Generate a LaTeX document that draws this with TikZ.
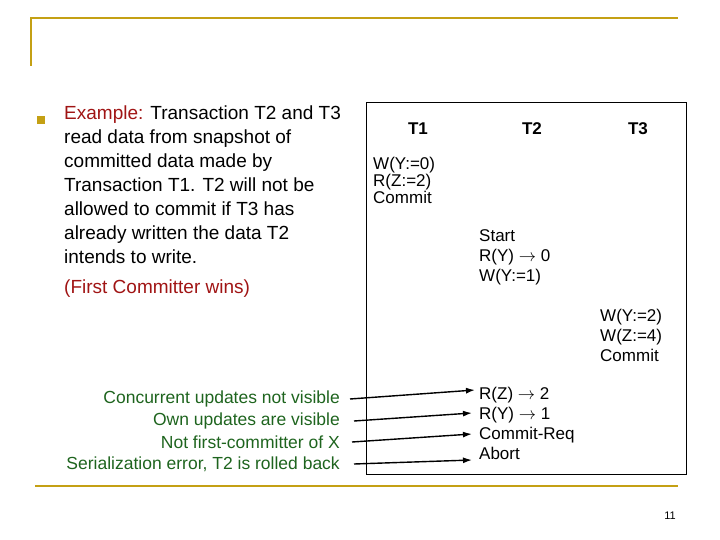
\documentclass[tikz,border=0pt]{standalone}
\usepackage{fontspec}
\setmainfont{Liberation Sans}
\usetikzlibrary{arrows.meta}
\definecolor{gold}{RGB}{196,160,20}
\definecolor{dred}{RGB}{160,20,20}
\definecolor{dgreen}{RGB}{30,100,30}
\begin{document}
\begin{tikzpicture}[x=1pt,y=-1pt,
  txt/.style={inner sep=0pt,anchor=north west,align=left},
  gtxt/.style={inner sep=0pt,anchor=east,text=dgreen,font=\fontsize{17.5}{18}\selectfont},
  arr/.style={-{Latex[length=9pt,width=6pt]},line width=1.4pt}]
\useasboundingbox (0,0) rectangle (720,540);
\draw[gold,line width=2.5pt] (31,66) -- (31,18) -- (678,18);
\draw[gold,line width=1.5pt] (35,486) -- (678,486);
\fill[gold] (37,116) rectangle (45,124);
\node[txt,font=\fontsize{19}{24}\selectfont] (main) at (64,106)
 {\textcolor{dred}{Example:} Transaction T2 and T3\\read data from snapshot of\\committed data made by\\Transaction T1. T2 will not be\\allowed to commit if T3 has\\already written the data T2\\intends to write.};
\node[txt,text=dred,font=\fontsize{19}{20}\selectfont] (fcw) at (64,280) {(First Committer wins)};
\draw (366,102) rectangle (686,474);
\node[font=\bfseries\fontsize{17}{18}\selectfont] (t1) at (418,129) {T1};
\node[font=\bfseries\fontsize{17}{18}\selectfont] (t2) at (532,129) {T2};
\node[font=\bfseries\fontsize{17}{18}\selectfont] (t3) at (638,129) {T3};
\node[txt,font=\fontsize{17}{15.5}\selectfont] (a) at (373,157) {W(Y:=0)\\R(Z:=2)\\Commit};
\node[txt,font=\fontsize{17}{20}\selectfont] (b) at (479,229) {Start\\R(Y) $\to$ 0\\W(Y:=1)};
\node[txt,font=\fontsize{17}{20}\selectfont] (c) at (600,309) {W(Y:=2)\\W(Z:=4)\\Commit};
\node[txt,font=\fontsize{17}{20}\selectfont] (d) at (479,387) {R(Z) $\to$ 2\\R(Y) $\to$ 1\\Commit-Req\\Abort};
\node[gtxt] (g1) at (340,399) {Concurrent updates not visible};
\node[gtxt] (g2) at (340,421) {Own updates are visible};
\node[gtxt] (g3) at (340,442) {Not first-committer of X};
\node[gtxt] (g4) at (340,464) {Serialization error, T2 is rolled back};
\coordinate (e1) at (475,390); \coordinate (e2) at (472,413);
\coordinate (e3) at (472,434); \coordinate (e4) at (472,460);
\draw[arr] (g1.east)++(10,0) -- (e1);
\draw[arr] (g2.east)++(14,0) -- (e2);
\draw[arr] (g3.east)++(12,0) -- (e3);
\draw[arr] (g4.east)++(14,0) -- (e4);
\node[font=\fontsize{11}{12}\selectfont] (pg) at (670,516) {11};
\end{tikzpicture}
\end{document}
